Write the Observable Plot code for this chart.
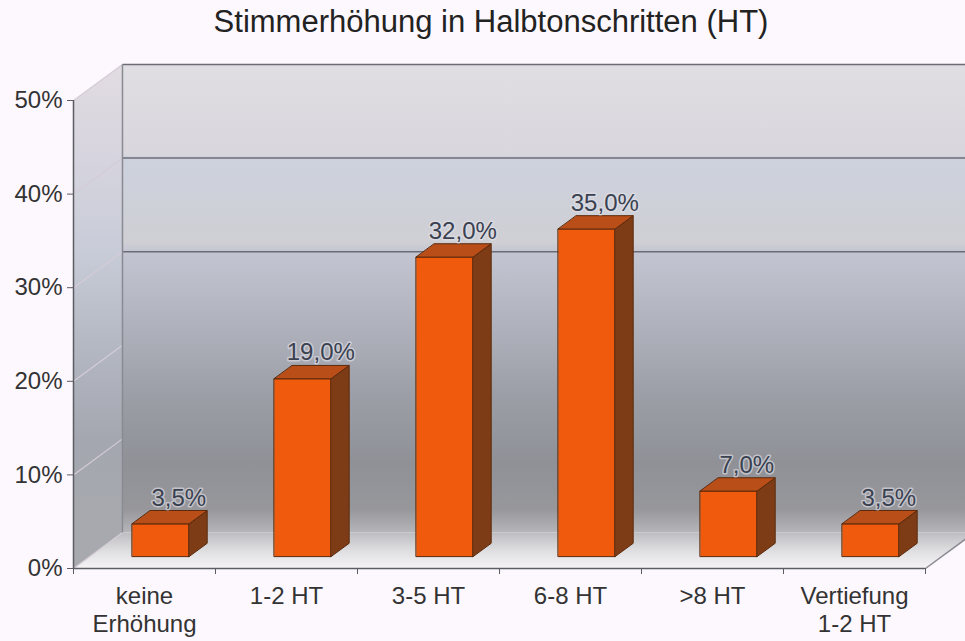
<!DOCTYPE html>
<html><head><meta charset="utf-8">
<script src="https://cdn.jsdelivr.net/npm/d3@7"></script>
<script src="https://cdn.jsdelivr.net/npm/@observablehq/plot@0.6"></script>
<style>
html,body{margin:0;padding:0;background:#fdf8fd;overflow:hidden;}
#title{box-sizing:border-box;width:965px;height:50px;padding-left:17px;text-align:center;
  font:31px "Liberation Sans",Arial,sans-serif;line-height:44px;color:#222;}
#chart svg{display:block;overflow:visible;}
</style></head>
<body>
<div id="title">Stimmerhöhung in Halbtonschritten (HT)</div>
<div id="chart"></div>
<script>
// ---- data ----
const categories = ["keine\nErhöhung", "1-2 HT", "3-5 HT", "6-8 HT", ">8 HT", "Vertiefung\n1-2 HT"];
const values = [3.5, 19.0, 32.0, 35.0, 7.0, 3.5];
const yTicks = [0, 10, 20, 30, 40, 50];
const yTickLabels = ["0%", "10%", "20%", "30%", "40%", "50%"];
const backGridTicks = [30, 40, 50];

// ---- 3D projection (depth expressed in data units) ----
const yMax = 50;
const nCat = categories.length;
const Dx = 0.345, Dy = 3.85;          // offset of the back plane
const barX0 = 0.3, barX1 = 0.7;        // bar extent within a category
const barZ0 = 0.33, barZ1 = 0.7;       // bar extent in depth
const P = (x, y, z) => ({x: x + z * Dx, y: y + z * Dy});
const poly = (id, pts) => pts.map(([x, y, z]) => ({id, ...P(x, y, z)}));

const backWall = poly("back", [[0,0,1],[nCat,0,1],[nCat,yMax,1],[0,yMax,1]]);
const sideWall = poly("side", [[0,0,0],[0,0,1],[0,yMax,1],[0,yMax,0]]);
const floor = poly("floor", [[0,0,0],[nCat,0,0],[nCat,0,1],[0,0,1]]);

const fronts = [], sides = [], tops = [];
values.forEach((v, i) => {
  const a = i + barX0, b = i + barX1;
  fronts.push(...poly("f"+i, [[a,0,barZ0],[b,0,barZ0],[b,v,barZ0],[a,v,barZ0]]));
  sides.push(...poly("s"+i, [[b,0,barZ0],[b,0,barZ1],[b,v,barZ1],[b,v,barZ0]]));
  tops.push(...poly("t"+i, [[a,v,barZ0],[b,v,barZ0],[b,v,barZ1],[a,v,barZ1]]));
});

const backGrid = backGridTicks.map(t => ({a: P(0, t, 1), b: P(nCat, t, 1)}));
const sideGrid = yTicks.map(t => ({a: P(0, t, 0), b: P(0, t, 1)}));
const edges = [
  {a: P(0, 0, 1), b: P(0, yMax, 1)},
  {a: P(nCat, 0, 0), b: P(nCat, 0, 1)}
];
const fmt = v => v.toFixed(1).replace(".", ",") + "%";

const FONT = '"Liberation Sans", Arial, sans-serif';
const link = (data, o) => Plot.link(data, {x1: d => d.a.x, y1: d => d.a.y, x2: d => d.b.x, y2: d => d.b.y, ...o});
const face = (data, o) => Plot.line(data, {x: "x", y: "y", z: "id", curve: "linear-closed", strokeLinejoin: "miter", ...o});

const chart = Plot.plot({
  width: 965, height: 591,
  marginLeft: 73, marginRight: 40, marginTop: 50, marginBottom: 73,
  style: {fontFamily: FONT, fontSize: "24px", color: "#333", background: "transparent"},
  x: {domain: [0, nCat], axis: null, label: null},
  y: {domain: [0, yMax], axis: null, label: null},
  marks: [
    face(backWall, {fill: "url(#wallGrad)", stroke: "none"}),
    face(sideWall, {fill: "url(#sideGrad)", stroke: "none"}),
    face(floor, {fill: "url(#floorGrad)", stroke: "none"}),
    link(sideGrid, {stroke: "#d4ccd6", strokeWidth: 1.2}),
    link(backGrid, {stroke: "#6c6c76", strokeWidth: 1.5}),
    link(edges, {stroke: "#8a8a92", strokeWidth: 1.5}),
    face(fronts, {fill: "#f05a0c", stroke: "#5a2a0c", strokeWidth: 1}),
    face(sides, {fill: "#7e3c16", stroke: "#5a2a0c", strokeWidth: 1}),
    face(tops, {fill: "#b94e18", stroke: "#5a2a0c", strokeWidth: 1}),
    Plot.ruleX([0], {y1: 0, y2: yMax, stroke: "#5c5c64", strokeWidth: 1.5}),
    Plot.ruleY([0], {x1: 0, x2: nCat, stroke: "#5c5c64", strokeWidth: 1.5}),
    Plot.axisY(yTicks, {tickFormat: (d, i) => yTickLabels[i], tickSize: 6, tickPadding: 5,
      stroke: "#5c5c64", fontSize: 24, fill: "#333", label: null}),
    Plot.axisX(d3.range(nCat + 1), {tickFormat: () => "", tickSize: 6, stroke: "#5c5c64", label: null}),
    Plot.text(categories, {x: (d, i) => i + 0.5, y: 0, text: d => d, lineAnchor: "top", dy: 16,
      lineHeight: 1.15, fontSize: 24, fill: "#333"}),
    Plot.text(values, {x: (d, i) => i + 0.5 + barZ1 * Dx, y: d => d + barZ1 * Dy, text: fmt,
      lineAnchor: "bottom", dy: -5, fontSize: 24, fill: "#3a4150",
      stroke: "#e4e2ea", strokeWidth: 3, strokeOpacity: 0.6})
  ]
});
document.getElementById("chart").appendChild(chart);

// gradient definitions, positioned through the y scale
const ys = chart.scale("y");
const yTop = ys.apply(yMax + Dy), yBot = ys.apply(0);
const yBack0 = ys.apply(Dy);
const svg = d3.select(chart.tagName === "svg" ? chart : chart.querySelector("svg"));
const defs = svg.insert("defs", ":first-child");
function grad(id, y1, y2, stops) {
  const g = defs.append("linearGradient").attr("id", id).attr("gradientUnits", "userSpaceOnUse")
    .attr("x1", 0).attr("x2", 0).attr("y1", y1).attr("y2", y2);
  stops.forEach(([o, c]) => g.append("stop").attr("offset", o).attr("stop-color", c));
}
const wallStops = [
  [0, "#e0dee2"], [0.19, "#d9d7dd"], [0.2, "#cdd2de"], [0.38, "#cfcfd4"], [0.4, "#c3c5d2"],
  [0.55, "#b0b3bd"], [0.7, "#9d9fa8"], [0.85, "#8f9197"], [0.95, "#97979b"], [1, "#b6b6ba"]
];
grad("wallGrad", yTop, yBack0, wallStops);
grad("sideGrad", yTop, yBack0, [
  [0, "#e2dce2"], [0.2, "#d6d4de"], [0.4, "#c8ccd8"], [0.6, "#b4b8c2"], [0.8, "#a4a7b0"], [1, "#a8a9ae"]
]);
grad("floorGrad", yBack0, yBot, [[0, "#bdbdc1"], [0.5, "#dedde0"], [1, "#f6f4f6"]]);
</script>
</body></html>
